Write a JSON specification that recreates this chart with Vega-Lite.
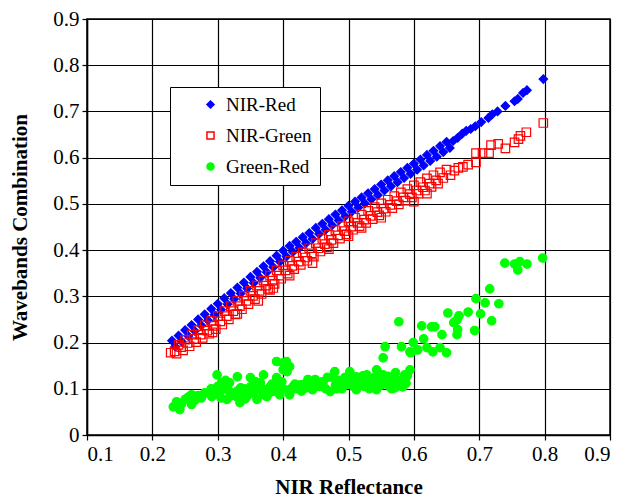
{
  "$schema": "https://vega.github.io/schema/vega-lite/v6.json",
  "width": 523,
  "height": 416,
  "autosize": {"type": "none"},
  "padding": {"left": 87, "top": 19, "right": 25, "bottom": 64},
  "background": "white",
  "config": {
    "font": "Liberation Serif",
    "view": {"stroke": "black", "strokeWidth": 1.5},
    "axis": {
      "labelFont": "Liberation Serif", "labelFontSize": 21, "labelColor": "black",
      "titleFont": "Liberation Serif", "titleFontSize": 21, "titleFontWeight": "bold", "titleColor": "black",
      "domainColor": "black", "domainWidth": 1.5, "tickColor": "black", "tickSize": 5, "tickWidth": 1.2,
      "gridColor": "black", "gridOpacity": 1, "gridWidth": 1.2, "labelPadding": 3
    }
  },
  "data": {"values": [
    {"s":"NIR-Red","x":0.23,"y":0.204},{"s":"NIR-Red","x":0.235,"y":0.191},{"s":"NIR-Red","x":0.24,"y":0.215},{"s":"NIR-Red","x":0.245,"y":0.202},
    {"s":"NIR-Red","x":0.25,"y":0.227},{"s":"NIR-Red","x":0.255,"y":0.214},{"s":"NIR-Red","x":0.26,"y":0.238},{"s":"NIR-Red","x":0.265,"y":0.225},
    {"s":"NIR-Red","x":0.27,"y":0.25},{"s":"NIR-Red","x":0.275,"y":0.237},{"s":"NIR-Red","x":0.28,"y":0.261},{"s":"NIR-Red","x":0.285,"y":0.248},
    {"s":"NIR-Red","x":0.29,"y":0.273},{"s":"NIR-Red","x":0.295,"y":0.26},{"s":"NIR-Red","x":0.3,"y":0.284},{"s":"NIR-Red","x":0.305,"y":0.271},
    {"s":"NIR-Red","x":0.31,"y":0.296},{"s":"NIR-Red","x":0.315,"y":0.283},{"s":"NIR-Red","x":0.32,"y":0.307},{"s":"NIR-Red","x":0.325,"y":0.294},
    {"s":"NIR-Red","x":0.33,"y":0.319},{"s":"NIR-Red","x":0.335,"y":0.306},{"s":"NIR-Red","x":0.34,"y":0.33},{"s":"NIR-Red","x":0.345,"y":0.317},
    {"s":"NIR-Red","x":0.35,"y":0.342},{"s":"NIR-Red","x":0.355,"y":0.329},{"s":"NIR-Red","x":0.36,"y":0.353},{"s":"NIR-Red","x":0.365,"y":0.34},
    {"s":"NIR-Red","x":0.37,"y":0.365},{"s":"NIR-Red","x":0.375,"y":0.352},{"s":"NIR-Red","x":0.38,"y":0.376},{"s":"NIR-Red","x":0.385,"y":0.363},
    {"s":"NIR-Red","x":0.39,"y":0.388},{"s":"NIR-Red","x":0.395,"y":0.375},{"s":"NIR-Red","x":0.4,"y":0.399},{"s":"NIR-Red","x":0.405,"y":0.386},
    {"s":"NIR-Red","x":0.41,"y":0.409},{"s":"NIR-Red","x":0.415,"y":0.396},{"s":"NIR-Red","x":0.42,"y":0.418},{"s":"NIR-Red","x":0.425,"y":0.405},
    {"s":"NIR-Red","x":0.43,"y":0.428},{"s":"NIR-Red","x":0.435,"y":0.415},{"s":"NIR-Red","x":0.44,"y":0.437},{"s":"NIR-Red","x":0.445,"y":0.424},
    {"s":"NIR-Red","x":0.45,"y":0.448},{"s":"NIR-Red","x":0.455,"y":0.435},{"s":"NIR-Red","x":0.46,"y":0.457},{"s":"NIR-Red","x":0.465,"y":0.444},
    {"s":"NIR-Red","x":0.47,"y":0.467},{"s":"NIR-Red","x":0.475,"y":0.454},{"s":"NIR-Red","x":0.48,"y":0.477},{"s":"NIR-Red","x":0.485,"y":0.464},
    {"s":"NIR-Red","x":0.49,"y":0.486},{"s":"NIR-Red","x":0.495,"y":0.473},{"s":"NIR-Red","x":0.5,"y":0.496},{"s":"NIR-Red","x":0.505,"y":0.483},
    {"s":"NIR-Red","x":0.51,"y":0.505},{"s":"NIR-Red","x":0.515,"y":0.492},{"s":"NIR-Red","x":0.52,"y":0.514},{"s":"NIR-Red","x":0.525,"y":0.501},
    {"s":"NIR-Red","x":0.53,"y":0.523},{"s":"NIR-Red","x":0.535,"y":0.51},{"s":"NIR-Red","x":0.54,"y":0.532},{"s":"NIR-Red","x":0.545,"y":0.519},
    {"s":"NIR-Red","x":0.55,"y":0.542},{"s":"NIR-Red","x":0.555,"y":0.529},{"s":"NIR-Red","x":0.56,"y":0.551},{"s":"NIR-Red","x":0.565,"y":0.538},
    {"s":"NIR-Red","x":0.57,"y":0.56},{"s":"NIR-Red","x":0.575,"y":0.547},{"s":"NIR-Red","x":0.58,"y":0.569},{"s":"NIR-Red","x":0.585,"y":0.556},
    {"s":"NIR-Red","x":0.59,"y":0.578},{"s":"NIR-Red","x":0.595,"y":0.565},{"s":"NIR-Red","x":0.6,"y":0.587},{"s":"NIR-Red","x":0.605,"y":0.574},
    {"s":"NIR-Red","x":0.61,"y":0.596},{"s":"NIR-Red","x":0.615,"y":0.583},{"s":"NIR-Red","x":0.62,"y":0.606},{"s":"NIR-Red","x":0.625,"y":0.593},
    {"s":"NIR-Red","x":0.63,"y":0.615},{"s":"NIR-Red","x":0.635,"y":0.602},{"s":"NIR-Red","x":0.64,"y":0.625},{"s":"NIR-Red","x":0.645,"y":0.612},
    {"s":"NIR-Red","x":0.65,"y":0.634},{"s":"NIR-Red","x":0.655,"y":0.621},{"s":"NIR-Red","x":0.66,"y":0.636},{"s":"NIR-Red","x":0.667,"y":0.643},
    {"s":"NIR-Red","x":0.674,"y":0.652},{"s":"NIR-Red","x":0.68,"y":0.658},{"s":"NIR-Red","x":0.687,"y":0.662},{"s":"NIR-Red","x":0.694,"y":0.668},
    {"s":"NIR-Red","x":0.703,"y":0.677},{"s":"NIR-Red","x":0.714,"y":0.686},{"s":"NIR-Red","x":0.72,"y":0.694},{"s":"NIR-Red","x":0.728,"y":0.7},
    {"s":"NIR-Red","x":0.74,"y":0.712},{"s":"NIR-Red","x":0.754,"y":0.722},{"s":"NIR-Red","x":0.759,"y":0.727},{"s":"NIR-Red","x":0.767,"y":0.74},
    {"s":"NIR-Red","x":0.773,"y":0.746},{"s":"NIR-Red","x":0.798,"y":0.77},

    {"s":"NIR-Green","x":0.228,"y":0.178},{"s":"NIR-Green","x":0.234,"y":0.181},{"s":"NIR-Green","x":0.237,"y":0.176},
    {"s":"NIR-Green","x":0.24,"y":0.195},{"s":"NIR-Green","x":0.244,"y":0.19},{"s":"NIR-Green","x":0.247,"y":0.183},
    {"s":"NIR-Green","x":0.25,"y":0.206},{"s":"NIR-Green","x":0.254,"y":0.199},{"s":"NIR-Green","x":0.257,"y":0.192},
    {"s":"NIR-Green","x":0.26,"y":0.217},{"s":"NIR-Green","x":0.264,"y":0.208},{"s":"NIR-Green","x":0.267,"y":0.201},
    {"s":"NIR-Green","x":0.27,"y":0.227},{"s":"NIR-Green","x":0.274,"y":0.217},{"s":"NIR-Green","x":0.277,"y":0.21},
    {"s":"NIR-Green","x":0.28,"y":0.237},{"s":"NIR-Green","x":0.284,"y":0.226},{"s":"NIR-Green","x":0.287,"y":0.219},
    {"s":"NIR-Green","x":0.29,"y":0.247},{"s":"NIR-Green","x":0.294,"y":0.236},{"s":"NIR-Green","x":0.297,"y":0.229},
    {"s":"NIR-Green","x":0.3,"y":0.257},{"s":"NIR-Green","x":0.304,"y":0.246},{"s":"NIR-Green","x":0.307,"y":0.239},
    {"s":"NIR-Green","x":0.31,"y":0.268},{"s":"NIR-Green","x":0.314,"y":0.257},{"s":"NIR-Green","x":0.317,"y":0.25},
    {"s":"NIR-Green","x":0.32,"y":0.279},{"s":"NIR-Green","x":0.324,"y":0.268},{"s":"NIR-Green","x":0.327,"y":0.261},
    {"s":"NIR-Green","x":0.33,"y":0.29},{"s":"NIR-Green","x":0.334,"y":0.279},{"s":"NIR-Green","x":0.337,"y":0.272},
    {"s":"NIR-Green","x":0.34,"y":0.301},{"s":"NIR-Green","x":0.344,"y":0.29},{"s":"NIR-Green","x":0.347,"y":0.283},
    {"s":"NIR-Green","x":0.35,"y":0.312},{"s":"NIR-Green","x":0.354,"y":0.301},{"s":"NIR-Green","x":0.357,"y":0.294},
    {"s":"NIR-Green","x":0.36,"y":0.323},{"s":"NIR-Green","x":0.364,"y":0.312},{"s":"NIR-Green","x":0.367,"y":0.305},
    {"s":"NIR-Green","x":0.37,"y":0.334},{"s":"NIR-Green","x":0.374,"y":0.323},{"s":"NIR-Green","x":0.377,"y":0.316},
    {"s":"NIR-Green","x":0.38,"y":0.345},{"s":"NIR-Green","x":0.384,"y":0.334},{"s":"NIR-Green","x":0.387,"y":0.327},
    {"s":"NIR-Green","x":0.39,"y":0.356},{"s":"NIR-Green","x":0.394,"y":0.345},{"s":"NIR-Green","x":0.397,"y":0.338},
    {"s":"NIR-Green","x":0.4,"y":0.367},{"s":"NIR-Green","x":0.404,"y":0.356},{"s":"NIR-Green","x":0.407,"y":0.349},
    {"s":"NIR-Green","x":0.41,"y":0.377},{"s":"NIR-Green","x":0.414,"y":0.366},{"s":"NIR-Green","x":0.417,"y":0.359},
    {"s":"NIR-Green","x":0.42,"y":0.386},{"s":"NIR-Green","x":0.424,"y":0.375},{"s":"NIR-Green","x":0.427,"y":0.368},
    {"s":"NIR-Green","x":0.43,"y":0.395},{"s":"NIR-Green","x":0.434,"y":0.384},{"s":"NIR-Green","x":0.437,"y":0.377},
    {"s":"NIR-Green","x":0.44,"y":0.404},{"s":"NIR-Green","x":0.444,"y":0.393},{"s":"NIR-Green","x":0.447,"y":0.386},
    {"s":"NIR-Green","x":0.45,"y":0.415},{"s":"NIR-Green","x":0.454,"y":0.404},{"s":"NIR-Green","x":0.457,"y":0.397},
    {"s":"NIR-Green","x":0.46,"y":0.424},{"s":"NIR-Green","x":0.464,"y":0.413},{"s":"NIR-Green","x":0.467,"y":0.406},
    {"s":"NIR-Green","x":0.47,"y":0.433},{"s":"NIR-Green","x":0.474,"y":0.422},{"s":"NIR-Green","x":0.477,"y":0.415},
    {"s":"NIR-Green","x":0.48,"y":0.443},{"s":"NIR-Green","x":0.484,"y":0.432},{"s":"NIR-Green","x":0.487,"y":0.425},
    {"s":"NIR-Green","x":0.49,"y":0.452},{"s":"NIR-Green","x":0.494,"y":0.441},{"s":"NIR-Green","x":0.497,"y":0.434},
    {"s":"NIR-Green","x":0.5,"y":0.462},{"s":"NIR-Green","x":0.504,"y":0.451},{"s":"NIR-Green","x":0.507,"y":0.444},
    {"s":"NIR-Green","x":0.51,"y":0.47},{"s":"NIR-Green","x":0.514,"y":0.459},{"s":"NIR-Green","x":0.517,"y":0.452},
    {"s":"NIR-Green","x":0.52,"y":0.477},{"s":"NIR-Green","x":0.524,"y":0.466},{"s":"NIR-Green","x":0.527,"y":0.459},
    {"s":"NIR-Green","x":0.53,"y":0.485},{"s":"NIR-Green","x":0.534,"y":0.474},{"s":"NIR-Green","x":0.537,"y":0.467},
    {"s":"NIR-Green","x":0.54,"y":0.493},{"s":"NIR-Green","x":0.544,"y":0.482},{"s":"NIR-Green","x":0.547,"y":0.475},
    {"s":"NIR-Green","x":0.55,"y":0.501},{"s":"NIR-Green","x":0.554,"y":0.49},{"s":"NIR-Green","x":0.557,"y":0.483},
    {"s":"NIR-Green","x":0.56,"y":0.509},{"s":"NIR-Green","x":0.564,"y":0.498},{"s":"NIR-Green","x":0.567,"y":0.491},
    {"s":"NIR-Green","x":0.57,"y":0.517},{"s":"NIR-Green","x":0.574,"y":0.506},{"s":"NIR-Green","x":0.577,"y":0.499},
    {"s":"NIR-Green","x":0.58,"y":0.525},{"s":"NIR-Green","x":0.584,"y":0.514},{"s":"NIR-Green","x":0.587,"y":0.507},
    {"s":"NIR-Green","x":0.59,"y":0.532},{"s":"NIR-Green","x":0.594,"y":0.521},{"s":"NIR-Green","x":0.597,"y":0.514},
    {"s":"NIR-Green","x":0.6,"y":0.54},{"s":"NIR-Green","x":0.604,"y":0.529},{"s":"NIR-Green","x":0.607,"y":0.522},
    {"s":"NIR-Green","x":0.61,"y":0.547},{"s":"NIR-Green","x":0.614,"y":0.536},{"s":"NIR-Green","x":0.617,"y":0.529},
    {"s":"NIR-Green","x":0.62,"y":0.555},{"s":"NIR-Green","x":0.624,"y":0.544},{"s":"NIR-Green","x":0.627,"y":0.537},
    {"s":"NIR-Green","x":0.63,"y":0.562},{"s":"NIR-Green","x":0.634,"y":0.551},{"s":"NIR-Green","x":0.637,"y":0.544},
    {"s":"NIR-Green","x":0.64,"y":0.568},{"s":"NIR-Green","x":0.645,"y":0.556},{"s":"NIR-Green","x":0.65,"y":0.574},
    {"s":"NIR-Green","x":0.656,"y":0.562},{"s":"NIR-Green","x":0.662,"y":0.572},{"s":"NIR-Green","x":0.668,"y":0.578},
    {"s":"NIR-Green","x":0.675,"y":0.58},{"s":"NIR-Green","x":0.683,"y":0.585},{"s":"NIR-Green","x":0.695,"y":0.59},
    {"s":"NIR-Green","x":0.695,"y":0.61},{"s":"NIR-Green","x":0.705,"y":0.61},{"s":"NIR-Green","x":0.715,"y":0.61},
    {"s":"NIR-Green","x":0.718,"y":0.627},{"s":"NIR-Green","x":0.729,"y":0.63},{"s":"NIR-Green","x":0.74,"y":0.62},
    {"s":"NIR-Green","x":0.754,"y":0.633},{"s":"NIR-Green","x":0.76,"y":0.64},{"s":"NIR-Green","x":0.763,"y":0.647},
    {"s":"NIR-Green","x":0.772,"y":0.655},{"s":"NIR-Green","x":0.798,"y":0.675},
    {"s":"NIR-Green","x":0.292,"y":0.222},{"s":"NIR-Green","x":0.33,"y":0.262},{"s":"NIR-Green","x":0.362,"y":0.29},
    {"s":"NIR-Green","x":0.38,"y":0.314},{"s":"NIR-Green","x":0.385,"y":0.318},{"s":"NIR-Green","x":0.41,"y":0.345},
    {"s":"NIR-Green","x":0.445,"y":0.372},{"s":"NIR-Green","x":0.47,"y":0.402},{"s":"NIR-Green","x":0.5,"y":0.43},
    {"s":"NIR-Green","x":0.52,"y":0.448},{"s":"NIR-Green","x":0.55,"y":0.47},{"s":"NIR-Green","x":0.6,"y":0.505},
    {"s":"NIR-Green","x":0.62,"y":0.522},

    {"s":"Green-Red","x":0.232,"y":0.061},{"s":"Green-Red","x":0.242,"y":0.055},{"s":"Green-Red","x":0.237,"y":0.072},{"s":"Green-Red","x":0.25,"y":0.077},
    {"s":"Green-Red","x":0.26,"y":0.066},{"s":"Green-Red","x":0.26,"y":0.087},{"s":"Green-Red","x":0.27,"y":0.085},{"s":"Green-Red","x":0.28,"y":0.091},
    {"s":"Green-Red","x":0.285,"y":0.092},{"s":"Green-Red","x":0.291,"y":0.083},{"s":"Green-Red","x":0.295,"y":0.09},{"s":"Green-Red","x":0.299,"y":0.13},
    {"s":"Green-Red","x":0.306,"y":0.113},{"s":"Green-Red","x":0.303,"y":0.091},{"s":"Green-Red","x":0.31,"y":0.1},{"s":"Green-Red","x":0.314,"y":0.077},
    {"s":"Green-Red","x":0.318,"y":0.113},{"s":"Green-Red","x":0.318,"y":0.094},{"s":"Green-Red","x":0.32,"y":0.085},{"s":"Green-Red","x":0.329,"y":0.083},
    {"s":"Green-Red","x":0.33,"y":0.126},{"s":"Green-Red","x":0.33,"y":0.095},{"s":"Green-Red","x":0.334,"y":0.07},{"s":"Green-Red","x":0.339,"y":0.091},
    {"s":"Green-Red","x":0.34,"y":0.1},{"s":"Green-Red","x":0.345,"y":0.085},{"s":"Green-Red","x":0.35,"y":0.104},{"s":"Green-Red","x":0.35,"y":0.124},
    {"s":"Green-Red","x":0.355,"y":0.09},{"s":"Green-Red","x":0.36,"y":0.077},{"s":"Green-Red","x":0.36,"y":0.105},{"s":"Green-Red","x":0.365,"y":0.113},
    {"s":"Green-Red","x":0.365,"y":0.098},{"s":"Green-Red","x":0.37,"y":0.13},{"s":"Green-Red","x":0.37,"y":0.088},{"s":"Green-Red","x":0.375,"y":0.083},
    {"s":"Green-Red","x":0.38,"y":0.104},{"s":"Green-Red","x":0.385,"y":0.095},{"s":"Green-Red","x":0.39,"y":0.094},{"s":"Green-Red","x":0.39,"y":0.124},
    {"s":"Green-Red","x":0.39,"y":0.159},{"s":"Green-Red","x":0.395,"y":0.087},{"s":"Green-Red","x":0.4,"y":0.156},{"s":"Green-Red","x":0.4,"y":0.141},
    {"s":"Green-Red","x":0.4,"y":0.1},{"s":"Green-Red","x":0.405,"y":0.159},{"s":"Green-Red","x":0.406,"y":0.137},{"s":"Green-Red","x":0.41,"y":0.098},
    {"s":"Green-Red","x":0.41,"y":0.148},{"s":"Green-Red","x":0.41,"y":0.087},{"s":"Green-Red","x":0.415,"y":0.104},{"s":"Green-Red","x":0.42,"y":0.1},
    {"s":"Green-Red","x":0.425,"y":0.108},{"s":"Green-Red","x":0.43,"y":0.109},{"s":"Green-Red","x":0.435,"y":0.102},{"s":"Green-Red","x":0.44,"y":0.112},
    {"s":"Green-Red","x":0.445,"y":0.098},{"s":"Green-Red","x":0.449,"y":0.12},{"s":"Green-Red","x":0.455,"y":0.105},{"s":"Green-Red","x":0.46,"y":0.115},
    {"s":"Green-Red","x":0.461,"y":0.113},{"s":"Green-Red","x":0.465,"y":0.1},{"s":"Green-Red","x":0.472,"y":0.094},{"s":"Green-Red","x":0.476,"y":0.124},
    {"s":"Green-Red","x":0.479,"y":0.137},{"s":"Green-Red","x":0.48,"y":0.108},{"s":"Green-Red","x":0.485,"y":0.118},{"s":"Green-Red","x":0.49,"y":0.1},
    {"s":"Green-Red","x":0.491,"y":0.113},{"s":"Green-Red","x":0.5,"y":0.11},{"s":"Green-Red","x":0.502,"y":0.137},{"s":"Green-Red","x":0.505,"y":0.12},
    {"s":"Green-Red","x":0.512,"y":0.126},{"s":"Green-Red","x":0.512,"y":0.098},{"s":"Green-Red","x":0.517,"y":0.109},{"s":"Green-Red","x":0.52,"y":0.115},
    {"s":"Green-Red","x":0.525,"y":0.105},{"s":"Green-Red","x":0.528,"y":0.13},{"s":"Green-Red","x":0.53,"y":0.12},{"s":"Green-Red","x":0.535,"y":0.11},
    {"s":"Green-Red","x":0.537,"y":0.113},{"s":"Green-Red","x":0.543,"y":0.141},{"s":"Green-Red","x":0.543,"y":0.098},{"s":"Green-Red","x":0.545,"y":0.115},
    {"s":"Green-Red","x":0.55,"y":0.108},{"s":"Green-Red","x":0.553,"y":0.167},{"s":"Green-Red","x":0.553,"y":0.13},{"s":"Green-Red","x":0.555,"y":0.12},
    {"s":"Green-Red","x":0.556,"y":0.191},{"s":"Green-Red","x":0.558,"y":0.124},{"s":"Green-Red","x":0.56,"y":0.113},{"s":"Green-Red","x":0.563,"y":0.104},
    {"s":"Green-Red","x":0.565,"y":0.113},{"s":"Green-Red","x":0.568,"y":0.126},{"s":"Green-Red","x":0.57,"y":0.122},{"s":"Green-Red","x":0.571,"y":0.102},
    {"s":"Green-Red","x":0.574,"y":0.116},{"s":"Green-Red","x":0.575,"y":0.11},{"s":"Green-Red","x":0.577,"y":0.245},{"s":"Green-Red","x":0.579,"y":0.109},
    {"s":"Green-Red","x":0.58,"y":0.118},{"s":"Green-Red","x":0.581,"y":0.191},{"s":"Green-Red","x":0.583,"y":0.104},{"s":"Green-Red","x":0.586,"y":0.13},
    {"s":"Green-Red","x":0.594,"y":0.141},{"s":"Green-Red","x":0.594,"y":0.18},{"s":"Green-Red","x":0.595,"y":0.178},{"s":"Green-Red","x":0.599,"y":0.2},
    {"s":"Green-Red","x":0.606,"y":0.184},{"s":"Green-Red","x":0.612,"y":0.236},{"s":"Green-Red","x":0.615,"y":0.208},{"s":"Green-Red","x":0.62,"y":0.189},
    {"s":"Green-Red","x":0.627,"y":0.234},{"s":"Green-Red","x":0.629,"y":0.18},{"s":"Green-Red","x":0.632,"y":0.234},{"s":"Green-Red","x":0.64,"y":0.189},
    {"s":"Green-Red","x":0.643,"y":0.217},{"s":"Green-Red","x":0.65,"y":0.178},{"s":"Green-Red","x":0.652,"y":0.264},{"s":"Green-Red","x":0.661,"y":0.243},
    {"s":"Green-Red","x":0.666,"y":0.249},{"s":"Green-Red","x":0.666,"y":0.217},{"s":"Green-Red","x":0.667,"y":0.228},{"s":"Green-Red","x":0.669,"y":0.258},
    {"s":"Green-Red","x":0.683,"y":0.266},{"s":"Green-Red","x":0.693,"y":0.226},{"s":"Green-Red","x":0.695,"y":0.295},{"s":"Green-Red","x":0.702,"y":0.262},
    {"s":"Green-Red","x":0.709,"y":0.286},{"s":"Green-Red","x":0.716,"y":0.316},{"s":"Green-Red","x":0.719,"y":0.247},{"s":"Green-Red","x":0.73,"y":0.284},
    {"s":"Green-Red","x":0.739,"y":0.372},{"s":"Green-Red","x":0.754,"y":0.37},{"s":"Green-Red","x":0.759,"y":0.357},{"s":"Green-Red","x":0.762,"y":0.375},
    {"s":"Green-Red","x":0.773,"y":0.37},{"s":"Green-Red","x":0.797,"y":0.383},
    {"s":"Green-Red","x":0.245,"y":0.068},{"s":"Green-Red","x":0.255,"y":0.082},{"s":"Green-Red","x":0.265,"y":0.075},{"s":"Green-Red","x":0.275,"y":0.08},
    {"s":"Green-Red","x":0.29,"y":0.1},{"s":"Green-Red","x":0.3,"y":0.105},{"s":"Green-Red","x":0.305,"y":0.08},{"s":"Green-Red","x":0.312,"y":0.118},
    {"s":"Green-Red","x":0.325,"y":0.09},{"s":"Green-Red","x":0.335,"y":0.102},{"s":"Green-Red","x":0.342,"y":0.078},{"s":"Green-Red","x":0.352,"y":0.095},
    {"s":"Green-Red","x":0.358,"y":0.115},{"s":"Green-Red","x":0.368,"y":0.1},{"s":"Green-Red","x":0.378,"y":0.09},{"s":"Green-Red","x":0.383,"y":0.11},
    {"s":"Green-Red","x":0.392,"y":0.105},{"s":"Green-Red","x":0.398,"y":0.115},{"s":"Green-Red","x":0.418,"y":0.11},{"s":"Green-Red","x":0.428,"y":0.095},
    {"s":"Green-Red","x":0.438,"y":0.12},{"s":"Green-Red","x":0.452,"y":0.11},{"s":"Green-Red","x":0.468,"y":0.125},{"s":"Green-Red","x":0.482,"y":0.1},
    {"s":"Green-Red","x":0.495,"y":0.125},{"s":"Green-Red","x":0.508,"y":0.105},{"s":"Green-Red","x":0.515,"y":0.12},{"s":"Green-Red","x":0.522,"y":0.128},
    {"s":"Green-Red","x":0.532,"y":0.1},{"s":"Green-Red","x":0.54,"y":0.125},{"s":"Green-Red","x":0.548,"y":0.13},{"s":"Green-Red","x":0.56,"y":0.127},
    {"s":"Green-Red","x":0.566,"y":0.1},{"s":"Green-Red","x":0.572,"y":0.135},{"s":"Green-Red","x":0.585,"y":0.12},{"s":"Green-Red","x":0.588,"y":0.112},
    {"s":"Green-Red","x":0.59,"y":0.128}
  ]},
  "mark": {"type": "point", "filled": true, "opacity": 1, "strokeWidth": 1.2, "size": 72},
  "encoding": {
    "x": {"field": "x", "type": "quantitative",
      "scale": {"domain": [0.1, 0.9], "nice": false, "zero": false},
      "axis": {"values": [0.1, 0.2, 0.3, 0.4, 0.5, 0.6, 0.7, 0.8, 0.9], "format": ".1f", "title": "NIR Reflectance", "titlePadding": 12,
        "labelFont": "Liberation Serif", "titleFont": "Liberation Serif"}},
    "y": {"field": "y", "type": "quantitative",
      "scale": {"domain": [0, 0.9], "nice": false, "zero": true},
      "axis": {"values": [0, 0.1, 0.2, 0.3, 0.4, 0.5, 0.6, 0.7, 0.8, 0.9], "format": ".1~f", "title": "Wavebands Combination", "titlePadding": 22,
        "labelFont": "Liberation Serif", "titleFont": "Liberation Serif"}},
    "shape": {"field": "s", "type": "nominal", "title": null,
      "scale": {"domain": ["NIR-Red", "NIR-Green", "Green-Red"], "range": ["diamond", "square", "circle"]},
      "legend": {"orient": "none", "legendX": 83, "legendY": 68, "labelFont": "Liberation Serif", "labelFontSize": 19, "labelColor": "black",
        "strokeColor": "black", "fillColor": "white", "padding": 8, "rowPadding": 11, "symbolSize": 50, "symbolOffset": 23, "labelOffset": 6,
        "labelExpr": "datum.label + '\u00a0\u00a0\u00a0\u00a0\u00a0\u00a0\u00a0\u00a0\u00a0\u00a0'"}},
    "stroke": {"field": "s", "type": "nominal", "title": null,
      "scale": {"domain": ["NIR-Red", "NIR-Green", "Green-Red"], "range": ["#0000ff", "#ff0000", "#00ff00"]}},
    "fill": {"field": "s", "type": "nominal", "title": null,
      "scale": {"domain": ["NIR-Red", "NIR-Green", "Green-Red"], "range": ["#0000ff", "transparent", "#00ff00"]}}
  }
}
